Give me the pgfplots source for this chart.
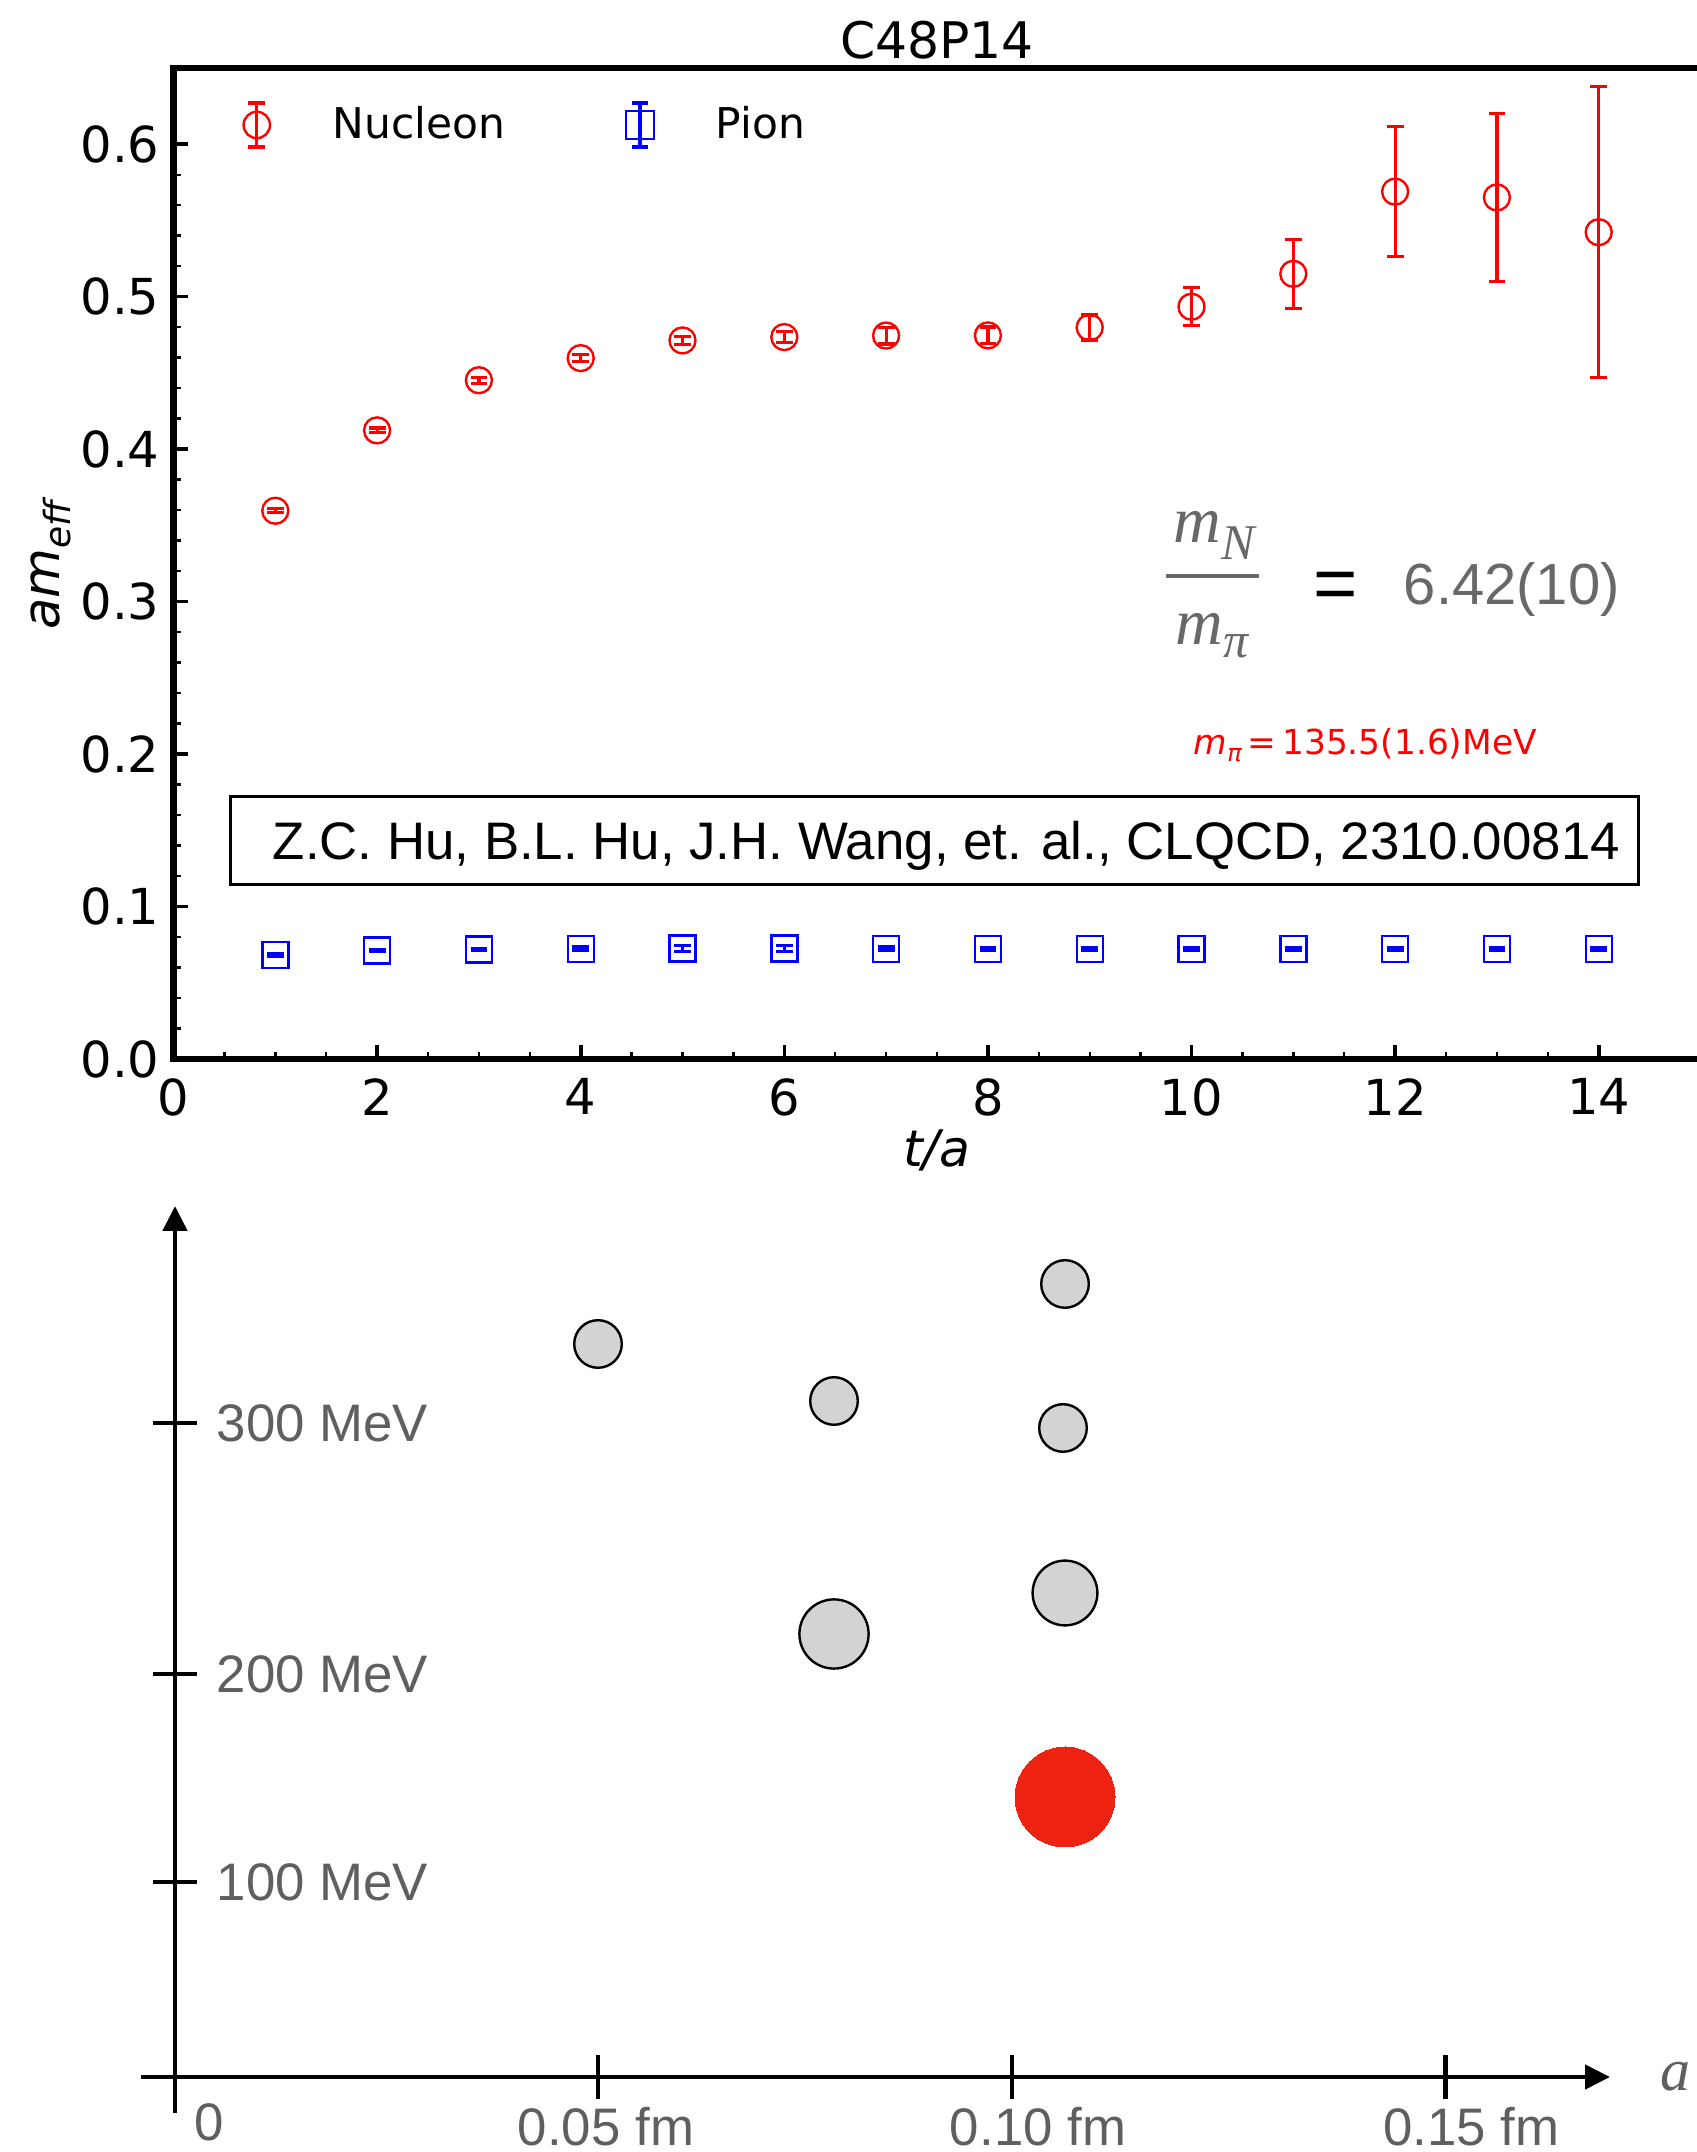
\documentclass[border=0pt]{standalone}
\usepackage{fontspec}
\setmainfont{DejaVu Sans}
\newfontfamily\helv{Liberation Sans}
\newfontfamily\tms{Liberation Serif}
\usepackage{graphicx}
\usepackage{pgfplots}
\usepackage{pgfplotstable}
\pgfplotsset{compat=1.18}
\usetikzlibrary{arrows.meta}
\definecolor{labelgray}{HTML}{5F5F5F}
\definecolor{fracgray}{HTML}{686868}
\definecolor{ptgray}{HTML}{D3D3D3}
\definecolor{ptred}{HTML}{EE2211}

\pgfplotstableread{
t m e
1 0.3596 0.0013
2 0.4123 0.0015
3 0.4452 0.0020
4 0.4597 0.0023
5 0.4713 0.0027
6 0.4735 0.0037
7 0.4745 0.0055
8 0.4746 0.0055
9 0.4798 0.0082
10 0.4934 0.0125
11 0.5150 0.0225
12 0.5689 0.0425
13 0.5651 0.0550
14 0.5423 0.0954
}\nucleon

\pgfplotstableread{
t m e
1 0.0681 0.0008
2 0.0711 0.0008
3 0.0718 0.0009
4 0.0722 0.0012
5 0.0725 0.0018
6 0.0725 0.0018
7 0.0722 0.0012
8 0.0721 0.0009
9 0.0721 0.0009
10 0.0721 0.0009
11 0.0721 0.0009
12 0.0721 0.0009
13 0.0721 0.0009
14 0.0721 0.0009
}\pion

\begin{document}
\begin{tikzpicture}
\useasboundingbox (0,0) rectangle (424pt,538pt);

% ---------------- top panel ----------------
\begin{axis}[
  at={(43.375pt,273.25pt)}, anchor=south west,
  scale only axis, width=381.75pt, height=247.75pt,
  xmin=0, xmax=15, ymin=0, ymax=0.65,
  axis line style={line width=1.6pt},
  tick align=inside, tick pos=left,
  xtick={0,2,...,14}, ytick={0,0.1,...,0.6},
  minor x tick num=3, minor y tick num=4,
  major tick length=3.6pt, minor tick length=1.8pt,
  every major tick/.append style={line width=0.9pt, black},
  every minor tick/.append style={line width=0.6pt, black},
  /pgf/number format/assume math mode=true,
  tick label style={font=\fontsize{12.4}{12.4}\selectfont},
  xticklabel style={yshift=-1.4pt},
  yticklabel style={/pgf/number format/.cd, fixed, fixed zerofill, precision=1},
  title={C48P14},
  every axis title shift=0pt,
  title style={at={(axis description cs:0.5,1.0091)}, anchor=base, yshift=0pt, font=\fontsize{12.6}{12.6}\selectfont},
  xlabel={\textit{t/a}},
  xlabel style={at={(axis description cs:0.5,-0.108)}, anchor=base, font=\fontsize{12.6}{12.6}\selectfont},
  ylabel={\textit{am}\raisebox{-0.22em}{\fontsize{9}{9}\selectfont\textit{eff}}},
  ylabel style={at={(axis description cs:-0.0802,0.5)}, anchor=center, font=\fontsize{12.8}{12.8}\selectfont},
  legend columns=2,
  legend style={draw=none, fill=none, inner sep=0pt, outer sep=0pt,
    at={(axis description cs:0.04355,0.9425)}, anchor=west,
    font=\fontsize{10.6}{12}\selectfont,
    /tikz/every even column/.append style={column sep=27.5pt}},
]
\addplot[only marks, mark=o, color=red, mark size=3.25pt, mark options={line width=0.6pt},
  legend image code/.code={
    \draw[red, line width=0.8pt] (0pt,-5.5pt) -- (0pt,5.5pt);
    \draw[red, line width=0.8pt] (-2.1pt,-5.5pt) -- (2.1pt,-5.5pt);
    \draw[red, line width=0.8pt] (-2.1pt,5.5pt) -- (2.1pt,5.5pt);
    \draw[red, line width=0.6pt] (0pt,0pt) circle (3.3pt);
    \path (-4pt,0pt) (16.75pt,0pt);
  },
  error bars/.cd, y dir=both, y explicit,
  error bar style={line width=0.8pt, red},
  error mark options={rotate=90, line width=0.8pt, mark size=2.1pt, red}]
  table[x=t, y=m, y error=e] {\nucleon};
\addlegendentry{Nucleon}
\addplot[only marks, mark=square, color=blue, mark size=3.25pt, mark options={line width=0.6pt},
  legend image code/.code={
    \draw[blue, line width=0.8pt] (0pt,-5.5pt) -- (0pt,5.5pt);
    \draw[blue, line width=0.8pt] (-2.1pt,-5.5pt) -- (2.1pt,-5.5pt);
    \draw[blue, line width=0.8pt] (-2.1pt,5.5pt) -- (2.1pt,5.5pt);
    \draw[blue, line width=0.6pt] (-3.45pt,-3.45pt) rectangle (3.45pt,3.45pt);
    \path (-4pt,0pt) (16.75pt,0pt);
  },
  error bars/.cd, y dir=both, y explicit,
  error bar style={line width=0.8pt, blue},
  error mark options={rotate=90, line width=0.8pt, mark size=2.1pt, blue}]
  table[x=t, y=m, y error=e] {\pion};
\addlegendentry{Pion}
\end{axis}

% ---------------- bottom panel ----------------
\begin{axis}[
  at={(35.25pt,9.75pt)}, anchor=south west,
  x=0.25pt, y=0.25pt,
  xmin=-34, xmax=1435, ymin=-36, ymax=871,
  axis lines=middle,
  axis line style={line width=1.2pt, -{Triangle[length=6.25pt,width=6pt]}},
  xtick={423,837,1270.5}, xticklabels={\hspace*{-9pt}0.05 fm,0.10 fm,0.15 fm},
  ytick={195,403,654}, yticklabels={100 MeV,200 MeV,300 MeV},
  minor tick num=0,
  tick align=center, major tick length=11pt,
  every major tick/.append style={line width=1.2pt, black},
  tick label style={font=\helv\fontsize{13.2}{13.2}\selectfont, text=labelgray},
  xticklabel style={anchor=north, inner sep=0pt, yshift=-1.75pt, xshift=6.5pt},
  yticklabel style={anchor=west, inner sep=0pt, xshift=15.75pt},
  clip=false,
]
\addplot[only marks, mark=*, mark size=5.95pt, mark options={fill=ptgray, draw=black, line width=0.6pt}]
  coordinates {(423,733) (890,793) (659,676) (888,649)};
\addplot[only marks, mark=*, mark size=8.1pt, mark options={fill=ptgray, draw=black, line width=0.6pt}]
  coordinates {(890,484)};
\addplot[only marks, mark=*, mark size=8.65pt, mark options={fill=ptgray, draw=black, line width=0.6pt}]
  coordinates {(659,443)};
\addplot[only marks, color=ptred, mark=*, mark size=12.5pt, mark options={fill=ptred, draw=ptred, line width=0pt}]
  coordinates {(890,280)};
\node[anchor=north, inner sep=0pt, font=\helv\fontsize{13.2}{13.2}\selectfont, text=labelgray] at (axis cs:34,-26) {0};
\node[anchor=base, inner sep=0pt, font=\tms\itshape\fontsize{15}{15}\selectfont, text=labelgray] at (axis cs:1500,-13) {a};
\end{axis}

% ---------------- annotations (pixel coordinates) ----------------
\begin{scope}[shift={(0pt,538pt)}, x=0.25pt, y=-0.25pt]
\node[anchor=base west, inner sep=0pt, font=\tms\itshape\fontsize{16.5}{16.5}\selectfont, text=fracgray]
  at (1173,543) {m\raisebox{-4.25pt}{\fontsize{12.5}{12.5}\selectfont N}};
\draw[fracgray, line width=0.85pt] (1166,576) -- (1259,576);
\node[anchor=base west, inner sep=0pt, font=\tms\itshape\fontsize{16.5}{16.5}\selectfont, text=fracgray]
  at (1175,645) {m\raisebox{-3.25pt}{\fontsize{12.5}{12.5}\selectfont π}};
\node[anchor=base, inner sep=0pt, font=\helv\fontsize{19}{19}\selectfont, text=black]
  at (1336,610) {=};
\node[anchor=base west, inner sep=0pt, font=\helv\fontsize{14.5}{14.5}\selectfont, text=fracgray]
  at (1403,605) {6.42(10)};
\node[anchor=base west, inner sep=0pt, font=\fontsize{8.6}{8.6}\selectfont, text=red]
  at (1193,755) {\textit{m}\raisebox{-0.18em}{\fontsize{6}{6}\selectfont\textit{π}}\,=\,135.5(1.6)MeV};
\draw[line width=0.75pt] (230.5,796.5) rectangle (1638,884.5);
\node[anchor=base west, inner sep=0pt, font=\helv\fontsize{13.2}{13.2}\selectfont, text=black]
  at (272,860) {Z.C. Hu, B.L. Hu, J.H. Wang, et. al., CLQCD, 2310.00814};
\end{scope}
\end{tikzpicture}
\end{document}
